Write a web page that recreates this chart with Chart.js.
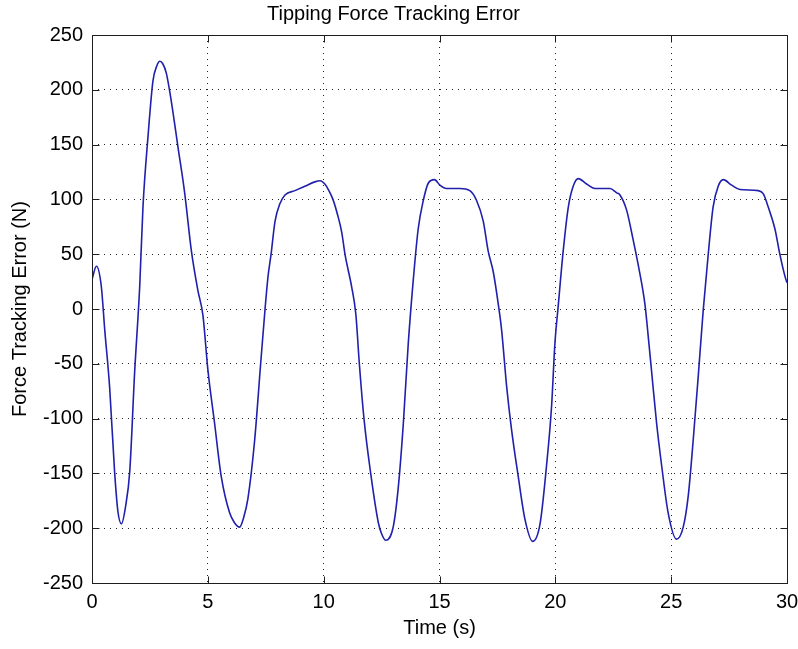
<!DOCTYPE html>
<html>
<head>
<meta charset="utf-8">
<title>Tipping Force Tracking Error</title>
<script src="https://cdn.jsdelivr.net/npm/chart.js@4.4.1/dist/chart.umd.min.js"></script>
<style>
  body { margin: 0; background: #fff; }
  canvas { display: block; }
</style>
</head>
<body>
<canvas id="errorChart" width="798" height="649"></canvas>
<script>
// sampled tracking error (N) against time (s)
const timeSec = [
  0, 0.19, 0.4, 0.55, 0.76, 0.98, 1.12, 1.27, 1.45, 1.63, 1.84, 2.06, 2.2, 2.42, 2.63, 2.8, 2.93, 3.05, 3.21, 3.42,
  3.71, 4.0, 4.29, 4.57, 4.79, 5.0, 5.29, 5.58, 5.94, 6.15, 6.37, 6.55, 6.73, 7.02, 7.28, 7.47, 7.6, 7.73, 7.9, 8.11,
  8.33, 8.76, 9.19, 9.62, 9.85, 10.05, 10.2, 10.4, 10.6, 10.78, 10.92, 11.21, 11.39, 11.54, 11.74, 12.03, 12.36, 12.5, 12.68, 13.0,
  13.22, 13.44, 13.65, 13.87, 14.08, 14.3, 14.52, 14.78, 15.02, 15.3, 15.88, 16.31, 16.6, 16.89, 17.1, 17.32, 17.54, 17.68, 17.9, 18.11,
  18.4, 18.69, 19.02, 19.34, 19.62, 19.84, 19.98, 20.13, 20.34, 20.56, 20.77, 20.99, 21.35, 21.71, 22.36, 22.65, 22.79, 23.08, 23.36, 23.58,
  23.87, 24.01, 24.16, 24.37, 24.59, 24.87, 25.23, 25.52, 25.74, 25.95, 26.17, 26.38, 26.6, 26.81, 27.03, 27.25, 27.61, 27.97, 28.76, 28.98,
  29.19, 29.48, 29.69, 29.91, 30
];
const forceError = [
  27, 39, 21, -19, -71, -150, -185, -196, -180, -148, -58, 21, 93, 158, 208, 222, 226, 224, 215, 190,
  148, 106, 53, 17, -6, -55, -104, -153, -186, -195, -199, -190, -173, -120, -50, 0, 30, 50, 80, 96,
  104, 108, 112, 116, 117, 114, 109, 100, 86, 70, 50, 20, -5, -50, -100, -150, -195, -205, -211, -199,
  -163, -104, -32, 27, 73, 99, 115, 118, 113, 110, 110, 108, 99, 80, 53, 34, 4, -19, -71, -110,
  -153, -192, -212, -196, -143, -88, -32, 4, 53, 93, 112, 119, 114, 110, 110, 106, 104, 90, 63, 40,
  4, -25, -58, -104, -143, -186, -210, -199, -170, -120, -61, -2, 50, 93, 112, 118, 113, 109, 108, 105,
  93, 73, 50, 30, 24
];
const xTicks = [0, 5, 10, 15, 20, 25, 30];
const yTicks = [-250, -200, -150, -100, -50, 0, 50, 100, 150, 200, 250];

const FONT = { family: "'Liberation Sans', Arial, sans-serif", size: 20 };
const TICK_LEN = 7;

// closed axes box with inward tick marks on every side
const axesBox = {
  id: 'axesBox',
  afterDatasetsDraw(chart) {
    const { ctx, chartArea: a, scales: { x, y } } = chart;
    const l = Math.round(a.left) + 0.5, r = Math.round(a.right) + 0.5;
    const t = Math.round(a.top) + 0.5, b = Math.round(a.bottom) + 0.5;
    ctx.save();
    ctx.strokeStyle = '#1e1e1e';
    ctx.lineWidth = 1;
    ctx.beginPath();
    xTicks.forEach(v => {
      const px = Math.round(x.getPixelForValue(v)) + 0.5;
      ctx.moveTo(px, b); ctx.lineTo(px, b - TICK_LEN);
      ctx.moveTo(px, t); ctx.lineTo(px, t + TICK_LEN);
    });
    yTicks.forEach(v => {
      const py = Math.round(y.getPixelForValue(v)) + 0.5;
      ctx.moveTo(l, py); ctx.lineTo(l + TICK_LEN, py);
      ctx.moveTo(r, py); ctx.lineTo(r - TICK_LEN, py);
    });
    ctx.stroke();
    ctx.strokeRect(l, t, r - l, b - t);
    ctx.restore();
  }
};

const dottedGrid = {
  color: '#222',
  lineWidth: 1,
  drawTicks: false
};

new Chart(document.getElementById('errorChart'), {
  type: 'line',
  data: {
    datasets: [{
      data: timeSec.map((t, i) => ({ x: t, y: forceError[i] })),
      borderColor: 'rgb(32, 32, 172)',
      borderWidth: 1.6,
      pointRadius: 0,
      fill: false,
      cubicInterpolationMode: 'monotone'
    }]
  },
  options: {
    responsive: false,
    animation: false,
    layout: { padding: { left: 0, right: 11, top: 0, bottom: 0 } },
    plugins: {
      legend: { display: false },
      tooltip: { enabled: false },
      title: {
        display: true,
        text: 'Tipping Force Tracking Error',
        color: '#000',
        font: { ...FONT, weight: 'normal' },
        padding: { top: 2, bottom: 9 }
      }
    },
    scales: {
      x: {
        type: 'linear',
        min: 0,
        max: 30,
        afterBuildTicks: (scale) => { scale.ticks = xTicks.map(v => ({ value: v })); },
        afterFit: (scale) => {
          scale.height = 66;
          scale.paddingRight = 0;
        },
        grid: dottedGrid,
        border: { display: false, dash: [1, 5] },
        ticks: { color: '#000', font: FONT, padding: 7, maxRotation: 0 },
        title: { display: true, text: 'Time (s)', color: '#000', font: FONT, padding: { top: 0, bottom: 9 } }
      },
      y: {
        min: -250,
        max: 250,
        afterBuildTicks: (scale) => { scale.ticks = yTicks.map(v => ({ value: v })); },
        afterFit: (scale) => { scale.width = 92; },
        grid: dottedGrid,
        border: { display: false, dash: [1, 5] },
        ticks: { color: '#000', font: FONT, padding: 9 },
        title: { display: true, text: 'Force Tracking Error (N)', color: '#000', font: FONT, padding: { top: 8, bottom: 0 } }
      }
    }
  },
  plugins: [axesBox]
});
</script>
</body>
</html>
